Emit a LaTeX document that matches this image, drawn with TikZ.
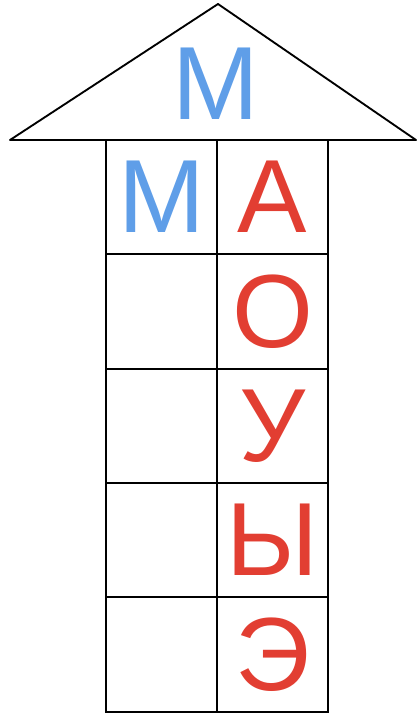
\documentclass[tikz,border=0pt]{standalone}
\usepackage{fontspec}
\setmainfont{Liberation Sans}
\usetikzlibrary{positioning}
\definecolor{vowelred}{RGB}{226,62,50}
\definecolor{consblue}{RGB}{95,158,232}

\begin{document}
\begin{tikzpicture}[
    x=0.75pt, y=-0.75pt,
    node distance=0pt,
    letter/.style={font=\fontsize{78}{80}\selectfont},
    cell/.style={rectangle, draw, line width=1.4pt, outer sep=0pt, minimum width=83.25pt, minimum height=85.8pt, inner sep=0pt, letter},
    vowel/.style={cell, text=vowelred},
    cons/.style={text=consblue}
  ]
  \useasboundingbox (0,0) rectangle (417,714);

  % roof
  \draw[line width=1.4pt, line join=round] (10,140) -- (218,4) -- (416,140) -- cycle;
  \node[letter, cons] (roofm) at (216,84) {М};

  % house
  \node[cell, cons] (m1) at (161.5,197) {М};
  \node[vowel, right=of m1] (a1) {А};
  \node[cell, below=of m1] (m2) {};
  \node[vowel, right=of m2] (o2) {О};
  \node[cell, below=of m2] (m3) {};
  \node[vowel, right=of m3] (u3) {У};
  \node[cell, below=of m3] (m4) {};
  \node[vowel, right=of m4] (y4) {Ы};
  \node[cell, below=of m4] (m5) {};
  \node[vowel, right=of m5] (e5) {Э};

\end{tikzpicture}
\end{document}
